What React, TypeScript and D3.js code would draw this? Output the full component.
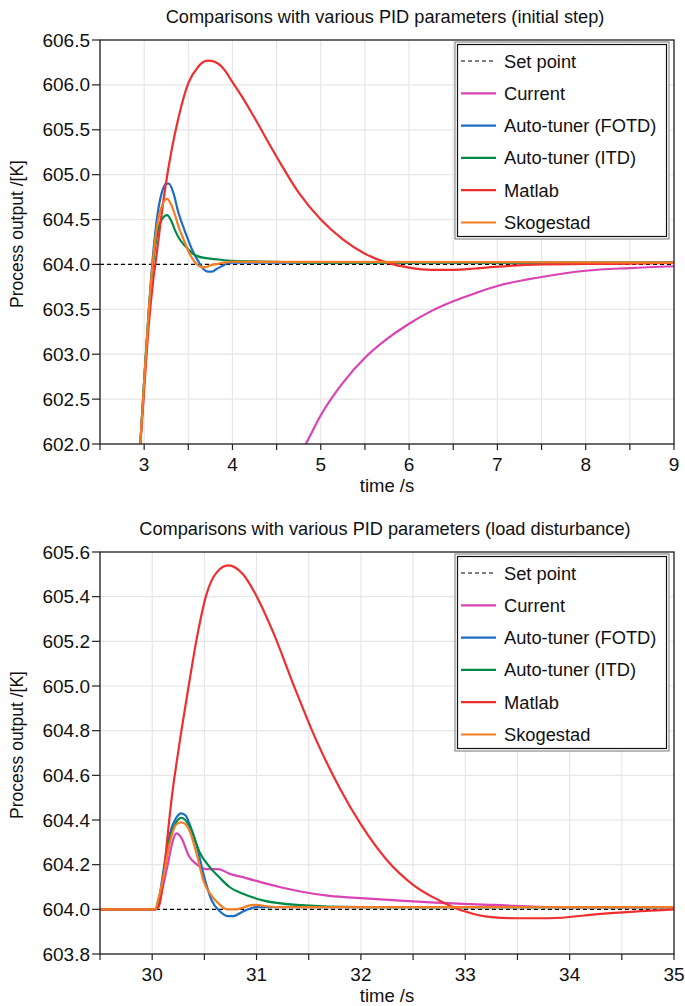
import React from "react";
import * as d3 from "d3";

type Pt = [number, number];

const seriesNames = ["Set point", "Current", "Auto-tuner (FOTD)", "Auto-tuner (ITD)", "Matlab", "Skogestad"];
const seriesColors = ["#000000", "#D943B4", "#1C6CC8", "#008C48", "#EE2E2F", "#F47D23"];

// ---------- top chart (initial step) ----------
const topTitle = "Comparisons with various PID parameters (initial step)";
const topXTicks = [2.5, 3, 3.5, 4, 4.5, 5, 5.5, 6, 6.5, 7, 7.5, 8, 8.5, 9];
const topXLabels = [3, 4, 5, 6, 7, 8, 9];
const topYTicks = [602.0, 602.5, 603.0, 603.5, 604.0, 604.5, 605.0, 605.5, 606.0, 606.5];

const topSetPoint: Pt[] = [[2.5, 604.0], [9, 604.0]];
const topCurrent: Pt[] = [
  [4.8, 601.95], [4.83, 602.0], [5.0, 602.32], [5.25, 602.68], [5.5, 602.96], [5.75, 603.17],
  [6.0, 603.34], [6.25, 603.48], [6.5, 603.59], [6.75, 603.68], [7.0, 603.76], [7.5, 603.86],
  [8.0, 603.93], [8.5, 603.96], [9.0, 603.98],
];
const topFotd: Pt[] = [
  [2.95, 601.9], [3.0, 602.7], [3.05, 603.45], [3.1, 604.1], [3.15, 604.55], [3.2, 604.8],
  [3.25, 604.9], [3.28, 604.9], [3.33, 604.8], [3.39, 604.57], [3.45, 604.4], [3.5, 604.27],
  [3.55, 604.15], [3.61, 604.04], [3.67, 603.95], [3.72, 603.92], [3.77, 603.92], [3.82, 603.95],
  [3.88, 603.98], [3.94, 604.01], [4.0, 604.02], [4.2, 604.02], [9.0, 604.02],
];
const topItd: Pt[] = [
  [2.95, 601.9], [3.0, 602.7], [3.05, 603.45], [3.1, 604.0], [3.15, 604.35], [3.2, 604.5],
  [3.26, 604.55], [3.3, 604.5], [3.35, 604.38], [3.39, 604.3], [3.45, 604.22], [3.5, 604.17],
  [3.55, 604.12], [3.61, 604.09], [3.7, 604.07], [3.8, 604.06], [4.0, 604.04], [4.5, 604.03],
  [5.0, 604.02], [9.0, 604.02],
];
const topMatlab: Pt[] = [
  [2.95, 601.9], [3.0, 602.6], [3.05, 603.3], [3.1, 603.8], [3.14, 604.1], [3.19, 604.5],
  [3.24, 604.86], [3.31, 605.27], [3.39, 605.64], [3.5, 606.02], [3.61, 606.2], [3.68, 606.26],
  [3.73, 606.27], [3.79, 606.26], [3.86, 606.22], [3.93, 606.14], [4.0, 606.03], [4.12, 605.85],
  [4.24, 605.65], [4.5, 605.2], [4.75, 604.8], [5.0, 604.5], [5.25, 604.28], [5.5, 604.12],
  [5.75, 604.02], [6.0, 603.965], [6.25, 603.94], [6.5, 603.94], [6.75, 603.955], [7.0, 603.975],
  [7.5, 604.0], [8.5, 604.01], [9.0, 604.02],
];
const topSkogestad: Pt[] = [
  [2.95, 601.9], [3.0, 602.7], [3.05, 603.45], [3.1, 604.05], [3.15, 604.45], [3.2, 604.65],
  [3.26, 604.73], [3.3, 604.68], [3.35, 604.55], [3.39, 604.42], [3.45, 604.27], [3.5, 604.15],
  [3.55, 604.06], [3.6, 604.0], [3.65, 603.97], [3.69, 603.97], [3.75, 603.99], [3.8, 604.0],
  [3.9, 604.02], [4.0, 604.03], [9.0, 604.02],
];

// ---------- bottom chart (load disturbance) ----------
const botTitle = "Comparisons with various PID parameters (load disturbance)";
const botXTicks = [29.5, 30, 30.5, 31, 31.5, 32, 32.5, 33, 33.5, 34, 34.5, 35];
const botXLabels = [30, 31, 32, 33, 34, 35];
const botYTicks = [603.8, 604.0, 604.2, 604.4, 604.6, 604.8, 605.0, 605.2, 605.4, 605.6];

const botSetPoint: Pt[] = [[29.5, 604.0], [35, 604.0]];
const botCurrent: Pt[] = [
  [29.5, 604.0], [30.03, 604.0], [30.08, 604.06], [30.14, 604.18], [30.2, 604.31], [30.23, 604.34],
  [30.28, 604.32], [30.35, 604.24], [30.43, 604.2], [30.52, 604.18], [30.63, 604.18], [30.74, 604.16],
  [30.9, 604.14], [31.22, 604.1], [31.42, 604.08], [31.7, 604.06], [32.0, 604.05], [32.34, 604.04],
  [32.71, 604.03], [33.27, 604.02], [33.88, 604.01], [35.0, 604.01],
];
const botFotd: Pt[] = [
  [29.5, 604.0], [30.03, 604.0], [30.07, 604.06], [30.11, 604.18], [30.17, 604.34], [30.23, 604.41],
  [30.28, 604.43], [30.32, 604.42], [30.36, 604.38], [30.43, 604.28], [30.49, 604.16], [30.57, 604.04],
  [30.65, 603.99], [30.72, 603.97], [30.78, 603.97], [30.87, 603.99], [31.0, 604.01], [31.2, 604.01],
  [35.0, 604.01],
];
const botItd: Pt[] = [
  [29.5, 604.0], [30.03, 604.0], [30.07, 604.05], [30.11, 604.16], [30.17, 604.32], [30.23, 604.39],
  [30.28, 604.41], [30.36, 604.37], [30.46, 604.25], [30.55, 604.19], [30.65, 604.14], [30.74, 604.1],
  [30.87, 604.07], [31.06, 604.04], [31.38, 604.02], [32.0, 604.01], [35.0, 604.01],
];
const botMatlab: Pt[] = [
  [29.5, 604.0], [30.03, 604.0], [30.06, 604.01], [30.09, 604.07], [30.12, 604.2], [30.15, 604.34],
  [30.19, 604.51], [30.235, 604.66], [30.27, 604.77], [30.346, 604.99], [30.43, 605.22], [30.52, 605.41],
  [30.62, 605.51], [30.73, 605.54], [30.87, 605.5], [30.98, 605.42], [31.16, 605.24], [31.35, 605.01],
  [31.56, 604.77], [31.8, 604.54], [32.0, 604.38], [32.25, 604.22], [32.5, 604.11], [32.75, 604.04],
  [33.0, 603.99], [33.25, 603.965], [33.5, 603.96], [33.8, 603.96], [34.3, 603.98], [35.0, 604.0],
];
const botSkogestad: Pt[] = [
  [29.5, 604.0], [30.03, 604.0], [30.05, 604.03], [30.11, 604.15], [30.17, 604.3], [30.23, 604.38],
  [30.28, 604.39], [30.35, 604.36], [30.43, 604.24], [30.49, 604.13], [30.57, 604.06], [30.65, 604.02],
  [30.72, 604.0], [30.8, 604.0], [30.97, 604.02], [31.2, 604.01], [35.0, 604.01],
];

const FONT = "'Liberation Sans', Arial, Helvetica, sans-serif";

interface ChartProps {
  title: string;
  xTicks: number[];
  xLabels: number[];
  yTicks: number[];
  series: Pt[][];
  top: number;
  bottom: number;
  id: string;
}

const LEFT = 100;
const RIGHT = 674;

function Chart({ title, xTicks, xLabels, yTicks, series, top, bottom, id }: ChartProps) {
  const x = d3.scaleLinear().domain([xTicks[0], xTicks[xTicks.length - 1]]).range([LEFT, RIGHT]);
  const y = d3.scaleLinear().domain([yTicks[0], yTicks[yTicks.length - 1]]).range([bottom, top]);
  const line = d3.line<Pt>().x((d) => x(d[0])).y((d) => y(d[1])).curve(d3.curveMonotoneX);
  const yFmt = d3.format(".1f");
  const legX = 455;
  const legY = top + 2;
  const legW = 214;
  const legH = 197;
  const rowH = 32.3;
  return (
    <g>
      <defs>
        <clipPath id={id}>
          <rect x={LEFT} y={top} width={RIGHT - LEFT} height={bottom - top} />
        </clipPath>
      </defs>
      <text x={(LEFT + RIGHT) / 2 - 2} y={top - 17} textAnchor="middle" fontSize={18.2} fill="#111">
        {title}
      </text>
      {/* grid */}
      {xTicks.map((t) => (
        <line key={"gx" + t} x1={x(t)} x2={x(t)} y1={top} y2={bottom} stroke="#e6e6e6" strokeWidth={1.2} />
      ))}
      {yTicks.map((t) => (
        <line key={"gy" + t} x1={LEFT} x2={RIGHT} y1={y(t)} y2={y(t)} stroke="#e6e6e6" strokeWidth={1.2} />
      ))}
      {/* series */}
      <g clipPath={`url(#${id})`}>
        {series.map((s, i) => (
          <path
            key={"s" + i}
            d={line(s) || ""}
            fill="none"
            stroke={seriesColors[i]}
            strokeWidth={i === 0 ? 1.2 : 2.2}
            strokeDasharray={i === 0 ? "4,3" : undefined}
          />
        ))}
      </g>
      {/* frame */}
      <rect x={LEFT} y={top} width={RIGHT - LEFT} height={bottom - top} fill="none" stroke="#222" strokeWidth={1.3} />
      {/* y ticks */}
      {yTicks.map((t) => (
        <g key={"yt" + t}>
          <line x1={LEFT - 8} x2={LEFT} y1={y(t)} y2={y(t)} stroke="#222" strokeWidth={1.2} />
          <text x={LEFT - 10} y={y(t) + 6.5} textAnchor="end" fontSize={19} fill="#111">
            {yFmt(t)}
          </text>
        </g>
      ))}
      {/* x ticks */}
      {xTicks.map((t) => (
        <line key={"xt" + t} x1={x(t)} x2={x(t)} y1={bottom} y2={bottom + 6} stroke="#222" strokeWidth={1.2} />
      ))}
      {xLabels.map((t) => (
        <text key={"xl" + t} x={x(t)} y={bottom + 26.5} textAnchor="middle" fontSize={19} fill="#111">
          {t}
        </text>
      ))}
      <text x={(LEFT + RIGHT) / 2} y={bottom + 47.5} textAnchor="middle" fontSize={18.5} fill="#111">
        time /s
      </text>
      <text
        transform={`translate(23, ${(top + bottom) / 2 - 8}) rotate(-90)`}
        textAnchor="middle"
        fontSize={17.5}
        fill="#111"
      >
        Process output /[K]
      </text>
      {/* legend */}
      <rect x={legX} y={legY} width={legW} height={legH} fill="#fff" stroke="#777" strokeWidth={1} />
      <rect x={legX + 2.5} y={legY + 2.5} width={legW - 5} height={legH - 5} fill="#fff" stroke="#111" strokeWidth={1.2} />
      {seriesNames.map((n, i) => {
        const ry = legY + 19 + i * rowH;
        return (
          <g key={"lg" + i}>
            <line
              x1={461}
              x2={496}
              y1={ry}
              y2={ry}
              stroke={seriesColors[i]}
              strokeWidth={i === 0 ? 1.2 : 2.2}
              strokeDasharray={i === 0 ? "4,3" : undefined}
            />
            <text x={504} y={ry + 6.5} fontSize={18.3} fill="#111">
              {n}
            </text>
          </g>
        );
      })}
    </g>
  );
}

export default function App() {
  return (
    <svg
      width={685}
      height={1006}
      style={{ position: "absolute", left: 0, top: 0, background: "#fff" }}
      fontFamily={FONT}
    >
      <rect width={685} height={1006} fill="#fff" />
      <Chart
        id="clipTop"
        title={topTitle}
        xTicks={topXTicks}
        xLabels={topXLabels}
        yTicks={topYTicks}
        series={[topSetPoint, topCurrent, topFotd, topItd, topMatlab, topSkogestad]}
        top={40}
        bottom={444}
      />
      <Chart
        id="clipBot"
        title={botTitle}
        xTicks={botXTicks}
        xLabels={botXLabels}
        yTicks={botYTicks}
        series={[botSetPoint, botCurrent, botFotd, botItd, botMatlab, botSkogestad]}
        top={552}
        bottom={954}
      />
    </svg>
  );
}
